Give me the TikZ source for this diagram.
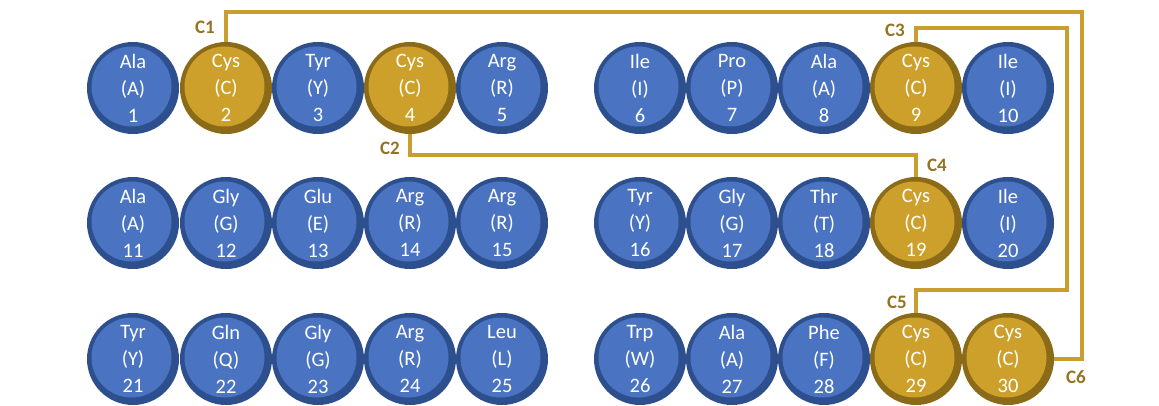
\documentclass[tikz,border=0pt]{standalone}
\usepackage{fontspec}
\setmainfont{Carlito}
\begin{document}
\begin{tikzpicture}[x=1pt,y=-1pt,
  res/.style 2 args={circle, minimum size=92pt, inner sep=0pt, fill=#1, draw=none,
    text=white, align=center, font=\fontsize{20.5}{27}\selectfont,
    path picture={\fill[#2] ([xshift=-1.5pt,yshift=1.5pt]path picture bounding box.center) circle (40pt);}},
  aa/.style={res={bluedark}{bluemain}},
  cy/.style={res={golddark}{goldmain}},
  bond/.style={draw=goldline, line width=3.2pt},
  lab/.style={text=goldlab, font=\fontsize{19}{19}\selectfont\bfseries, inner sep=0pt}]
\definecolor{bluemain}{HTML}{4A74C2}
\definecolor{bluedark}{HTML}{2D4F8E}
\definecolor{goldmain}{HTML}{CDA02B}
\definecolor{golddark}{HTML}{8C6B18}
\definecolor{goldline}{HTML}{C99E2E}
\definecolor{goldlab}{HTML}{957420}
\useasboundingbox (0,0) rectangle (1159,406);
% coordinates for bonds
\coordinate (k1) at (226,12);
\coordinate (k1b) at (1082,12);
\coordinate (k3) at (916,28);
\coordinate (k3b) at (1067,28);
\coordinate (k5) at (916,290);
\coordinate (k2) at (916,155);
% residues
\node[aa] (r1) at (133,88) {Ala\\(A)\\1};
\node[cy] (r2) at (226,88) {Cys\\(C)\\2};
\node[aa] (r3) at (318,88) {Tyr\\(Y)\\3};
\node[cy] (r4) at (410,88) {Cys\\(C)\\4};
\node[aa] (r5) at (502,88) {Arg\\(R)\\5};
\node[aa] (r6) at (640,88) {Ile\\(I)\\6};
\node[aa] (r7) at (732,88) {Pro\\(P)\\7};
\node[aa] (r8) at (824,88) {Ala\\(A)\\8};
\node[cy] (r9) at (916,88) {Cys\\(C)\\9};
\node[aa] (r10) at (1008,88) {Ile\\(I)\\10};
\node[aa] (r11) at (133,223) {Ala\\(A)\\11};
\node[aa] (r12) at (226,223) {Gly\\(G)\\12};
\node[aa] (r13) at (318,223) {Glu\\(E)\\13};
\node[aa] (r14) at (410,223) {Arg\\(R)\\14};
\node[aa] (r15) at (502,223) {Arg\\(R)\\15};
\node[aa] (r16) at (640,223) {Tyr\\(Y)\\16};
\node[aa] (r17) at (732,223) {Gly\\(G)\\17};
\node[aa] (r18) at (824,223) {Thr\\(T)\\18};
\node[cy] (r19) at (916,223) {Cys\\(C)\\19};
\node[aa] (r20) at (1008,223) {Ile\\(I)\\20};
\node[aa] (r21) at (133,359) {Tyr\\(Y)\\21};
\node[aa] (r22) at (226,359) {Gln\\(Q)\\22};
\node[aa] (r23) at (318,359) {Gly\\(G)\\23};
\node[aa] (r24) at (410,359) {Arg\\(R)\\24};
\node[aa] (r25) at (502,359) {Leu\\(L)\\25};
\node[aa] (r26) at (640,359) {Trp\\(W)\\26};
\node[aa] (r27) at (732,359) {Ala\\(A)\\27};
\node[aa] (r28) at (824,359) {Phe\\(F)\\28};
\node[cy] (r29) at (916,359) {Cys\\(C)\\29};
\node[cy] (r30) at (1008,359) {Cys\\(C)\\30};
% bonds
\draw[bond] (r2.north) -- (k1) -- (k1b) |- (r30.east);
\draw[bond] (r9.north) -- (k3) -- (k3b) |- (k5) -- (r29.north);
\draw[bond] (r4.south) |- (k2) -- (r19.north);
% labels
\node[lab] (c1) at (205,27) {C1};
\node[lab] (c2) at (390,148) {C2};
\node[lab] (c3) at (895,30) {C3};
\node[lab] (c4) at (937,165) {C4};
\node[lab] (c5) at (897,302) {C5};
\node[lab] (c6) at (1076,377) {C6};
\end{tikzpicture}
\end{document}
